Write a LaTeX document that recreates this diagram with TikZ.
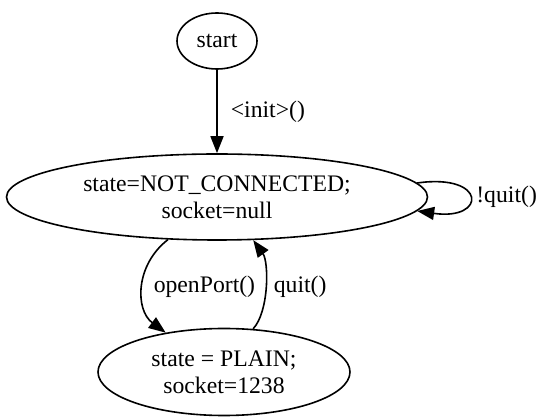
\documentclass[tikz,border=0pt]{standalone}
\usepackage{fontspec}
\setmainfont{Liberation Serif}
\usetikzlibrary{shapes.geometric,arrows.meta}

\begin{document}
\begin{tikzpicture}[x=1pt,y=-1pt,
    font=\fontsize{23.7}{27}\selectfont,
    state/.style={draw,ellipse,line width=1.6pt,inner sep=0pt,align=center},
    edge/.style={-{Triangle[length=17pt,width=13pt]},line width=1.6pt},
    lbl/.style={inner sep=0pt}]
  \useasboundingbox (0,0) rectangle (536,419);

  \node [state,minimum width=80pt,minimum height=56pt] (start) at (217,41) {start};
  \node [state,minimum width=421pt,minimum height=86pt] (nc) at (217,197) {state=NOT\_CONNECTED;\\socket=null};
  \node [state,minimum width=252pt,minimum height=87pt] (plain) at (224,372) {state = PLAIN;\\socket=1238};

  \draw[edge] (start) -- node [lbl,right=13pt] {<init>()} (nc);
  \draw[edge] (nc.4) .. controls (487,173) and (487,221) .. node [lbl,right=6pt] {!quit()} (nc.-4);
  \draw[edge] (nc.-139) .. controls (135,265) and (135,310) .. node [lbl,right=10pt] {openPort()} (plain.146);
  \draw[edge] (plain.56) .. controls (269,312) and (269,262) .. node [lbl,right=8pt] {quit()} (nc.-50);
\end{tikzpicture}
\end{document}
